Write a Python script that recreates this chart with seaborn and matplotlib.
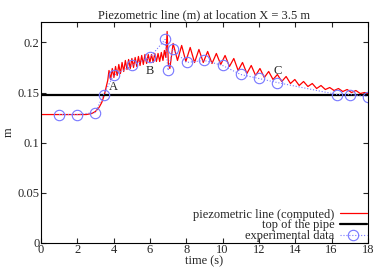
import matplotlib
matplotlib.use("Agg")
import matplotlib.pyplot as plt
import numpy as np
import pandas as pd
import seaborn as sns

# computed piezometric line (peaks and troughs)
t_comp = [0.0, 2.5, 2.8, 3.0, 3.2, 3.35, 3.5, 3.6, 3.68,
          3.75, 3.84, 3.93, 4.02, 4.11, 4.20, 4.29, 4.38, 4.47, 4.56,
          4.65, 4.74, 4.83, 4.92, 5.01, 5.10, 5.19, 5.28, 5.37, 5.46,
          5.55, 5.64, 5.73, 5.82, 5.91, 6.00, 6.09, 6.18, 6.27, 6.36,
          6.45, 6.54, 6.63, 6.72, 6.80, 6.88, 6.95, 7.02, 7.10,
          7.28, 7.52, 7.75, 7.98, 8.22, 8.46, 8.70, 8.94, 9.18, 9.42,
          9.66, 9.90, 10.14, 10.38, 10.62, 10.86, 11.10, 11.34, 11.58, 11.82,
          12.06, 12.30, 12.54, 12.78, 13.02, 13.26, 13.50, 13.74, 13.98, 14.22,
          14.46, 14.70, 14.94, 15.18, 15.42, 15.66, 15.90, 16.14, 16.38, 16.62,
          16.86, 17.10, 17.34, 17.58, 17.82, 18.0]
h_comp = [0.128, 0.128, 0.129, 0.131, 0.135, 0.140, 0.148, 0.156, 0.162,
          0.172, 0.163, 0.174, 0.165, 0.176, 0.167, 0.178, 0.169, 0.180, 0.171,
          0.182, 0.173, 0.183, 0.174, 0.184, 0.175, 0.185, 0.176, 0.186, 0.177,
          0.187, 0.178, 0.188, 0.179, 0.188, 0.180, 0.188, 0.180, 0.189, 0.181,
          0.189, 0.181, 0.190, 0.182, 0.192, 0.185, 0.211, 0.178, 0.174,
          0.199, 0.182, 0.197, 0.181, 0.195, 0.180, 0.193, 0.180, 0.191, 0.179,
          0.189, 0.178, 0.187, 0.176, 0.184, 0.172, 0.180, 0.169, 0.177, 0.167,
          0.174, 0.165, 0.171, 0.163, 0.168, 0.161, 0.166, 0.159, 0.163, 0.157,
          0.161, 0.156, 0.159, 0.154, 0.157, 0.153, 0.155, 0.152, 0.154, 0.151,
          0.153, 0.150, 0.152, 0.149, 0.150, 0.149]

# experimental data
t_exp = [1.0, 2.0, 3.0, 3.45, 4.0, 5.03, 6.0, 6.84, 7.0, 7.26,
         8.02, 9.0, 10.0, 11.0, 12.0, 13.0, 16.3, 17.0, 17.98]
h_exp = [0.128, 0.128, 0.130, 0.148, 0.167, 0.177, 0.185, 0.203, 0.172, 0.193,
         0.180, 0.182, 0.177, 0.168, 0.164, 0.160, 0.148, 0.148, 0.146]

# top of the pipe
t_pipe = [0.0, 18.0]
h_pipe = [0.148, 0.148]

labels = [("A", 3.75, 0.150), ("B", 6.0, 0.171), ("C", 13.05, 0.171)]

sns.set_style("ticks")
plt.rcParams['font.family'] = ['Liberation Serif', 'DejaVu Serif']

comp = pd.DataFrame({'t': t_comp, 'h': h_comp})
pipe = pd.DataFrame({'t': t_pipe, 'h': h_pipe})
exp = pd.DataFrame({'t': t_exp, 'h': h_exp})

fs = 9

fig = plt.figure(figsize = (3.82, 2.67), dpi = 100)
ax = fig.add_axes([0.107, 0.091, 0.856, 0.825])

sns.lineplot(data = comp, x = 't', y = 'h', ax = ax, color = 'red', lw = 0.9,
             estimator = None, sort = False, label = 'piezometric line (computed)')
sns.lineplot(data = pipe, x = 't', y = 'h', ax = ax, color = 'black', lw = 1.6,
             estimator = None, label = 'top of the pipe')
sns.lineplot(data = exp, x = 't', y = 'h', ax = ax, color = '#7777ff', lw = 0.8,
             linestyle = ':', marker = 'o', markersize = 7.5, markerfacecolor = 'none',
             markeredgecolor = '#7777ff', markeredgewidth = 0.8,
             estimator = None, sort = False, label = 'experimental data')

for txt, tx, ty in labels:
    ax.text(tx, ty, txt, fontsize = fs, ha = 'left' if txt == 'A' else 'center',
            va = 'bottom' if txt == 'A' else 'center')

ax.set_xlim(0, 18)
ax.set_ylim(0, 0.22)
ax.set_xticks(np.arange(0, 19, 2))
ax.set_yticks([0, 0.05, 0.1, 0.15, 0.2])
ax.set_yticklabels(['0', '0.05', '0.1', '0.15', '0.2'])
ax.tick_params(direction = 'in', length = 3.5, width = 0.8, labelsize = fs,
               top = True, right = True, pad = 1.0)
for s in ax.spines.values():
    s.set_linewidth(0.8)
    s.set_color('black')

ax.set_title('Piezometric line (m) at location X = 3.5 m', fontsize = fs, pad = 3)
ax.set_xlabel('time (s)', fontsize = fs, labelpad = -0.3)
ax.set_ylabel('m', fontsize = fs, labelpad = 2)

ax.legend(loc = 'lower right', frameon = False, markerfirst = False, fontsize = fs,
          labelspacing = -0.1, handlelength = 2.2, handletextpad = 0.4,
          borderaxespad = 0.0, borderpad = 0.05)

fig.savefig('out.png', dpi = 100)
